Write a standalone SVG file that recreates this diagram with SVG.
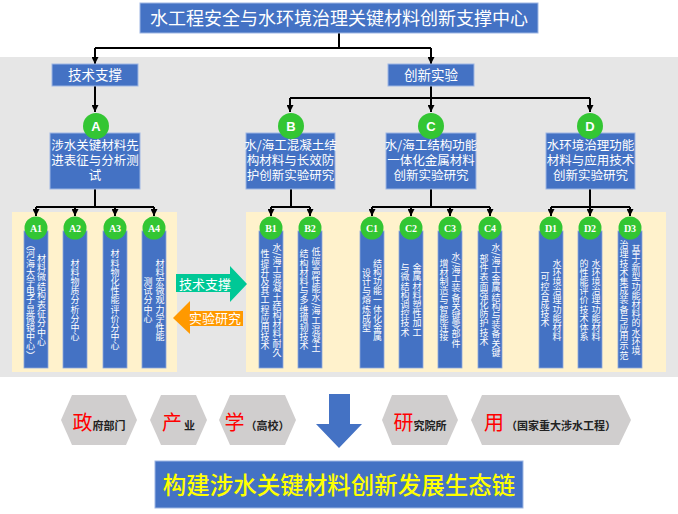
<svg xmlns="http://www.w3.org/2000/svg" width="678" height="514" viewBox="0 0 678 514">
<defs>
<marker id="arr" viewBox="0 0 10 10" refX="10" refY="5" markerWidth="7" markerHeight="7" markerUnits="userSpaceOnUse" orient="auto">
<path d="M0,0 L10,5 L0,10 Z" fill="#000"/>
</marker>
<style>
.box{fill:#4472c4;stroke:#9db6e3;stroke-width:1}
.col{fill:#4472c4;stroke:#8ea9db;stroke-width:0.8}
.t{font-family:"Noto Sans CJK SC","Noto Sans",sans-serif;fill:#fff}
.v{font-family:"Noto Sans CJK SC",sans-serif;font-size:9px;font-weight:normal;letter-spacing:0.2px;fill:#fff;writing-mode:vertical-rl;text-anchor:middle}
.c{fill:#33c633}
.cl{font-family:"Liberation Sans",sans-serif;font-weight:bold;font-size:13px;fill:#fff;text-anchor:middle}
.sl{font-family:"Liberation Serif",serif;font-weight:bold;font-size:10px;fill:#fff;text-anchor:middle}
.ln{fill:none;stroke:#000;stroke-width:2}
.hex{fill:#d0cece}
.hr{font-family:"Noto Sans CJK SC",sans-serif;fill:#ff0000;font-size:20px}
.hb{font-family:"Noto Sans CJK SC",sans-serif;fill:#222;font-size:11px;font-weight:bold}
</style>
</defs>
<rect x="0" y="57" width="678" height="320" fill="#e6e6e6"/>
<rect x="12" y="212" width="165" height="160" fill="#fff2cc"/>
<rect x="246" y="212" width="420" height="160" fill="#fff2cc"/>

<g id="connectors">
<path class="ln" d="M339,33 V48 M95,48 H431"/>
<path class="ln" d="M95,48 V64" marker-end="url(#arr)"/>
<path class="ln" d="M431,48 V64" marker-end="url(#arr)"/>
<path class="ln" d="M95,86 V112" marker-end="url(#arr)"/>
<path class="ln" d="M431,86 V98 M290,98 H590"/>
<path class="ln" d="M290,98 V112" marker-end="url(#arr)"/>
<path class="ln" d="M431,98 V112" marker-end="url(#arr)"/>
<path class="ln" d="M590,98 V112" marker-end="url(#arr)"/>
<path class="ln" d="M95,189 V207 M36,207 H154"/>
<path class="ln" d="M36,207 V216" marker-end="url(#arr)"/>
<path class="ln" d="M75,207 V216" marker-end="url(#arr)"/>
<path class="ln" d="M115,207 V216" marker-end="url(#arr)"/>
<path class="ln" d="M154,207 V216" marker-end="url(#arr)"/>
<path class="ln" d="M291,189 V207 M271,207 H310"/>
<path class="ln" d="M271,207 V216" marker-end="url(#arr)"/>
<path class="ln" d="M310,207 V216" marker-end="url(#arr)"/>
<path class="ln" d="M431,189 V207 M372,207 H490"/>
<path class="ln" d="M372,207 V216" marker-end="url(#arr)"/>
<path class="ln" d="M411,207 V216" marker-end="url(#arr)"/>
<path class="ln" d="M450,207 V216" marker-end="url(#arr)"/>
<path class="ln" d="M490,207 V216" marker-end="url(#arr)"/>
<path class="ln" d="M590,189 V207 M551,207 H630"/>
<path class="ln" d="M551,207 V216" marker-end="url(#arr)"/>
<path class="ln" d="M590,207 V216" marker-end="url(#arr)"/>
<path class="ln" d="M630,207 V216" marker-end="url(#arr)"/>
</g>

<g id="title">
<rect class="box" x="140" y="3" width="398" height="30"/>
<text class="t" x="339" y="24.5" font-size="18" text-anchor="middle">水工程安全与水环境治理关键材料创新支撑中心</text>
</g>
<g id="jishu">
<rect class="box" x="52" y="64" width="86" height="22"/>
<text class="t" x="95" y="80" font-size="13.5" text-anchor="middle">技术支撑</text>
</g>
<g id="chuangxin">
<rect class="box" x="388" y="64" width="86" height="22"/>
<text class="t" x="431" y="80" font-size="13.5" text-anchor="middle">创新实验</text>
</g>

<g id="A">
<rect class="box" x="50" y="133" width="90" height="56"/>
<text class="t" font-size="12.5" text-anchor="middle"><tspan x="95" y="149.5">涉水关键材料先</tspan><tspan x="95" y="164.5">进表征与分析测</tspan><tspan x="95" y="179.5">试</tspan></text>
<circle class="c" cx="96" cy="126" r="13"/><text class="cl" x="96" y="131">A</text>
</g>
<g id="B">
<rect class="box" x="246" y="133" width="89" height="56"/>
<text class="t" font-size="12.5" text-anchor="middle"><tspan x="290.5" y="149.5">水/海工混凝土结</tspan><tspan x="290.5" y="164.5">构材料与长效防</tspan><tspan x="290.5" y="179.5">护创新实验研究</tspan></text>
<circle class="c" cx="291" cy="126" r="13"/><text class="cl" x="291" y="131">B</text>
</g>
<g id="C">
<rect class="box" x="386" y="133" width="90" height="56"/>
<text class="t" font-size="12.5" text-anchor="middle"><tspan x="431" y="149.5">水/海工结构功能</tspan><tspan x="431" y="164.5">一体化金属材料</tspan><tspan x="431" y="179.5">创新实验研究</tspan></text>
<circle class="c" cx="431" cy="126" r="13"/><text class="cl" x="431" y="131">C</text>
</g>
<g id="D">
<rect class="box" x="546" y="133" width="89" height="56"/>
<text class="t" font-size="12.5" text-anchor="middle"><tspan x="590.5" y="149.5">水环境治理功能</tspan><tspan x="590.5" y="164.5">材料与应用技术</tspan><tspan x="590.5" y="179.5">创新实验研究</tspan></text>
<circle class="c" cx="590" cy="126" r="13"/><text class="cl" x="590" y="131">D</text>
</g>

<g id="A1"><rect class="col" x="24" y="231" width="24" height="137"/><circle class="c" cx="36" cy="228" r="11.5"/><text class="sl" x="36" y="231.5">A1</text>
<text class="v" x="41.5" y="300">材料微结构表征分中心</text><text class="v" x="30.5" y="300">（河海大学电子显微镜中心）</text></g>
<g id="A2"><rect class="col" x="63" y="231" width="24" height="137"/><circle class="c" cx="75" cy="228" r="11.5"/><text class="sl" x="75" y="231.5">A2</text>
<text class="v" x="75" y="300">材料物质分析分中心</text></g>
<g id="A3"><rect class="col" x="103" y="231" width="24" height="137"/><circle class="c" cx="115" cy="228" r="11.5"/><text class="sl" x="115" y="231.5">A3</text>
<text class="v" x="115" y="300">材料物化性能评价分中心</text></g>
<g id="A4"><rect class="col" x="142" y="231" width="24" height="137"/><circle class="c" cx="154" cy="228" r="11.5"/><text class="sl" x="154" y="231.5">A4</text>
<text class="v" x="160" y="300">材料宏微观力学性能</text><text class="v" x="148" y="300">测试分中心</text></g>

<g id="B1"><rect class="col" x="259" y="231" width="24" height="137"/><circle class="c" cx="271" cy="228" r="11.5"/><text class="sl" x="271" y="231.5">B1</text>
<text class="v" x="277" y="300">水/海工混凝土结构材料耐久</text><text class="v" x="265" y="300">性提升及其工程应用技术</text></g>
<g id="B2"><rect class="col" x="298" y="231" width="24" height="137"/><circle class="c" cx="310" cy="228" r="11.5"/><text class="sl" x="310" y="231.5">B2</text>
<text class="v" x="316" y="300">低碳高性能水/海工混凝土</text><text class="v" x="304" y="300">结构材料与多维增韧技术</text></g>

<g id="C1"><rect class="col" x="360" y="231" width="24" height="137"/><circle class="c" cx="372" cy="228" r="11.5"/><text class="sl" x="372" y="231.5">C1</text>
<text class="v" x="377.5" y="300">结构功能一体化金属</text><text class="v" x="366.5" y="300">设计与熔炼成型</text></g>
<g id="C2"><rect class="col" x="399" y="231" width="24" height="137"/><circle class="c" cx="411" cy="228" r="11.5"/><text class="sl" x="411" y="231.5">C2</text>
<text class="v" x="417" y="300">金属材料塑性加工</text><text class="v" x="405" y="300">与微结构调控技术</text></g>
<g id="C3"><rect class="col" x="438" y="231" width="24" height="137"/><circle class="c" cx="450" cy="228" r="11.5"/><text class="sl" x="450" y="231.5">C3</text>
<text class="v" x="456" y="300">水/海工装备关键零部件</text><text class="v" x="444" y="300">增材制造与智能连接</text></g>
<g id="C4"><rect class="col" x="478" y="231" width="24" height="137"/><circle class="c" cx="490" cy="228" r="11.5"/><text class="sl" x="490" y="231.5">C4</text>
<text class="v" x="496" y="300">水/海工金属结构与装备关键</text><text class="v" x="484" y="300">部件表面强化防护技术</text></g>

<g id="D1"><rect class="col" x="539" y="231" width="24" height="137"/><circle class="c" cx="551" cy="228" r="11.5"/><text class="sl" x="551" y="231.5">D1</text>
<text class="v" x="557" y="300">水环境治理功能材料</text><text class="v" x="545" y="300">可控合成技术</text></g>
<g id="D2"><rect class="col" x="578" y="231" width="24" height="137"/><circle class="c" cx="590" cy="228" r="11.5"/><text class="sl" x="590" y="231.5">D2</text>
<text class="v" x="596" y="300">水环境治理功能材料</text><text class="v" x="584" y="300">的性能评价技术体系</text></g>
<g id="D3"><rect class="col" x="618" y="231" width="24" height="137"/><circle class="c" cx="630" cy="228" r="11.5"/><text class="sl" x="630" y="231.5">D3</text>
<text class="v" x="636" y="300">基于新型功能材料的水环境</text><text class="v" x="624" y="300">治理技术集成装备与应用示范</text></g>

<g id="arrow-jishu">
<polygon points="176,274 230,274 230,266 247,284 230,302 230,292 176,292" fill="#00c896"/>
<text class="t" x="205" y="289" font-size="13" text-anchor="middle">技术支撑</text>
</g>
<g id="arrow-shiyan">
<polygon points="173,318 190,301 190,311 243,311 243,326 190,326 190,334" fill="#ff9900"/>
<text class="t" x="215" y="323" font-size="13" text-anchor="middle">实验研究</text>
</g>

<g id="zheng"><polygon class="hex" points="61,420 72,395 126,395 137,420 126,445 72,445"/>
<text x="99" y="430" text-anchor="middle"><tspan class="hr">政</tspan><tspan class="hb">府部门</tspan></text></g>
<g id="chan"><polygon class="hex" points="150,420 161,395 196,395 207,420 196,445 161,445"/>
<text x="178.5" y="430" text-anchor="middle"><tspan class="hr">产</tspan><tspan class="hb" dx="2">业</tspan></text></g>
<g id="xue"><polygon class="hex" points="219,420 230,395 285,395 296,420 285,445 230,445"/>
<text x="257" y="430" text-anchor="middle"><tspan class="hr">学</tspan><tspan class="hb" dx="1">（高校）</tspan></text></g>
<g id="yan"><polygon class="hex" points="382,420 392,395 447,395 458,420 447,445 392,445"/>
<text x="420" y="430" text-anchor="middle"><tspan class="hr">研</tspan><tspan class="hb">究院所</tspan></text></g>
<g id="yong"><polygon class="hex" points="471,420 482,395 619,395 631,420 619,445 482,445"/>
<text x="550" y="430" text-anchor="middle"><tspan class="hr">用</tspan><tspan class="hb" dx="2">（国家重大涉水工程）</tspan></text></g>

<g id="down-arrow"><polygon points="329,394 350,394 350,424 362,424 339,448 316,424 329,424" fill="#4472c4"/></g>

<g id="banner">
<rect x="155" y="461" width="368" height="47" fill="#4472c4" stroke="#9db6e3" stroke-width="1"/>
<text x="339" y="494" font-family="Noto Sans CJK SC,sans-serif" font-size="23.5" font-weight="500" fill="#ffff00" text-anchor="middle">构建涉水关键材料创新发展生态链</text>
</g>
</svg>
